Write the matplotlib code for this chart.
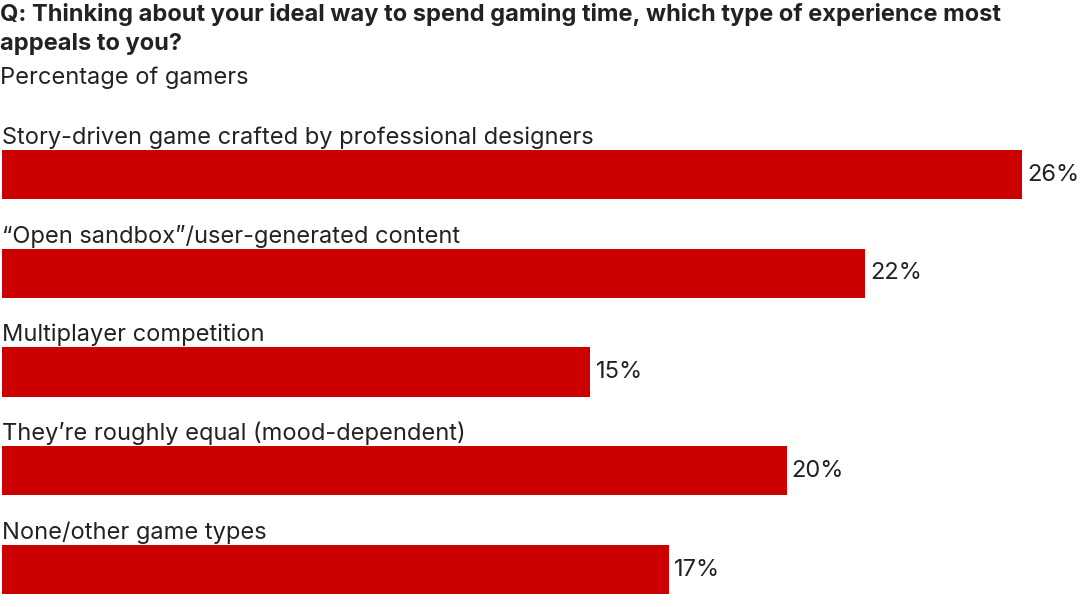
import matplotlib
matplotlib.use("Agg")
import matplotlib.pyplot as plt

categories = [
    "Story-driven game crafted by professional designers",
    "\u201cOpen sandbox\u201d/user-generated content",
    "Multiplayer competition",
    "They\u2019re roughly equal (mood-dependent)",
    "None/other game types",
]
values = [26, 22, 15, 20, 17]
value_labels = ["26%", "22%", "15%", "20%", "17%"]

title_lines = [
    "Q: Thinking about your ideal way to spend gaming time, which type of experience most",
    "appeals to you?",
]
subtitle = "Percentage of gamers"

BAR_COLOR = "#CC0000"
TEXT_COLOR = "#222222"
FONT = ["Inter", "DejaVu Sans"]
FS = 17

W, H = 1080, 607
fig = plt.figure(figsize=(W / 100, H / 100), dpi=100)
ax = fig.add_axes([0, 0, 1, 1])

px_per_unit = 39.23
x0 = 2
ax.set_xlim(-x0 / px_per_unit, (W - x0) / px_per_unit)
c0, step = 174.5, 98.75
ax.set_ylim((H - c0) / step, -c0 / step)
ax.axis("off")

ypos = list(range(len(categories)))
ax.barh(ypos, values, height=0.5, color=BAR_COLOR, left=0)

for y, v, lab, cat in zip(ypos, values, value_labels, categories):
    ax.annotate(lab, (v, y), xytext=(5, 0), textcoords="offset pixels",
                ha="left", va="center", fontsize=FS, color=TEXT_COLOR, family=FONT)
    ax.annotate(cat, (0, y - 0.25), xytext=(0, 6), textcoords="offset pixels",
                ha="left", va="baseline", fontsize=FS, color=TEXT_COLOR, family=FONT)

for i, line in enumerate(title_lines):
    fig.text(0.5 / W, 1 - (21 + 29 * i) / H, line, ha="left", va="baseline",
             fontsize=FS, fontweight="bold", color=TEXT_COLOR, family=FONT)
fig.text(0 / W, 1 - 84 / H, subtitle, ha="left", va="baseline", fontsize=FS,
         color=TEXT_COLOR, family=FONT)

fig.savefig("out.png", dpi=100)
